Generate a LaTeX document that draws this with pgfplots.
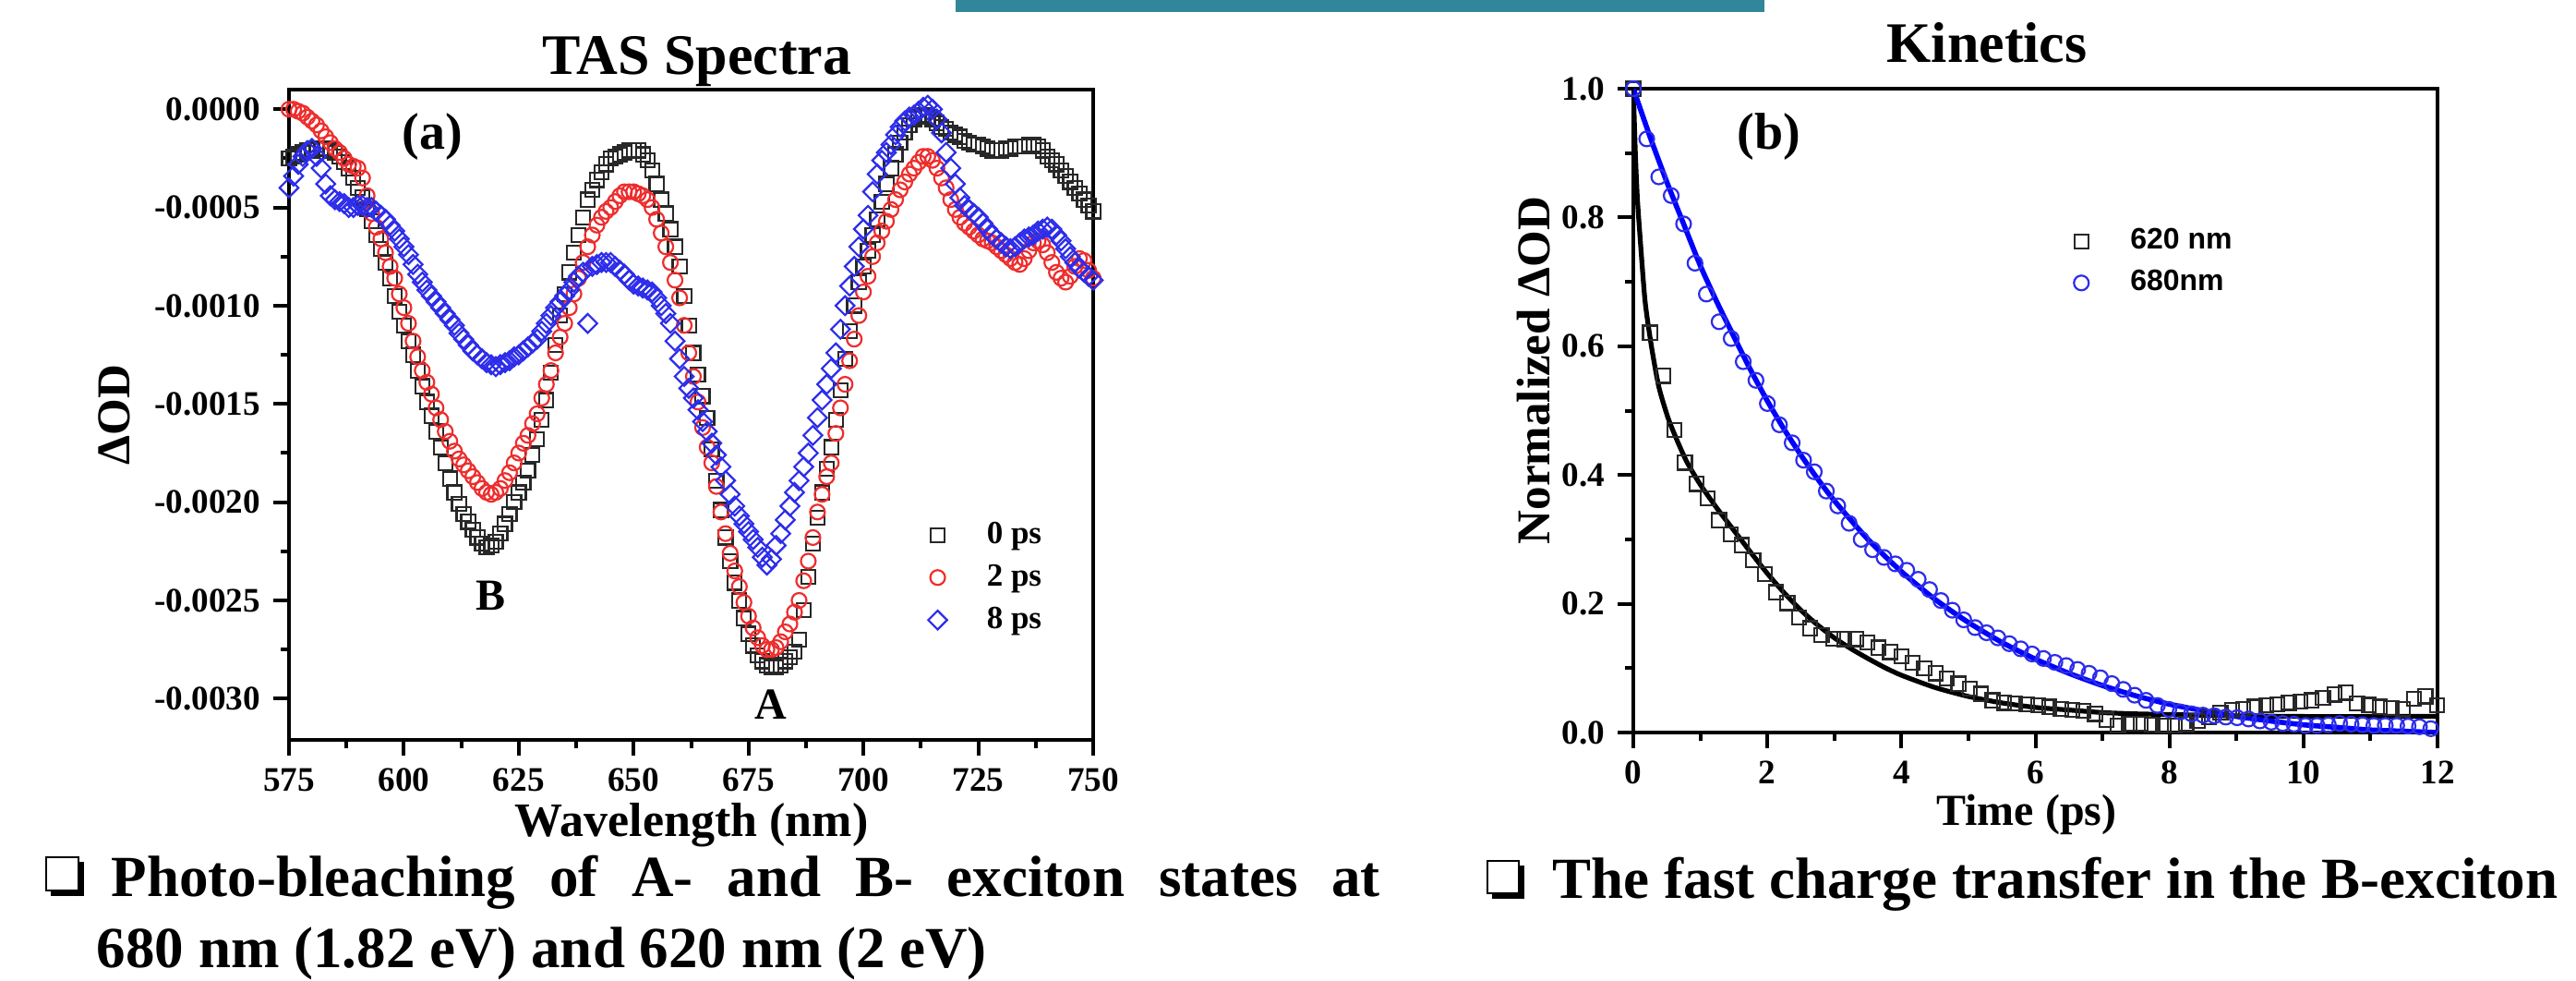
\documentclass[border=0pt]{standalone}
\usepackage{fontspec}
\setmainfont{Liberation Serif}
\newfontfamily\arialf{Liberation Sans}
\usepackage{pgfplots}
\usepackage{pgfplotstable}
\pgfplotsset{compat=1.18}
\definecolor{barteal}{RGB}{49,134,155}
\definecolor{mred}{RGB}{238,45,45}
\definecolor{mblue}{RGB}{45,45,235}
\definecolor{mblack}{RGB}{40,40,40}

\pgfplotstableread{
wl a b c
575 -0.00025 0.00000 -0.00040
576 -0.00024 0.00000 -0.00034
577 -0.00023 -0.00001 -0.00028
578 -0.00022 -0.00002 -0.00024
579 -0.00021 -0.00004 -0.00021
580 -0.00021 -0.00006 -0.00020
581 -0.00020 -0.00008 -0.00024
582 -0.00020 -0.00011 -0.00030
583 -0.00020 -0.00014 -0.00038
584 -0.00021 -0.00017 -0.00044
585 -0.00022 -0.00020 -0.00046
586 -0.00024 -0.00022 -0.00047
587 -0.00027 -0.00025 -0.00048
588 -0.00030 -0.00028 -0.00050
589 -0.00035 -0.00029 -0.00050
590 -0.00040 -0.00030 -0.00049
591 -0.00045 -0.00035 -0.00049
592 -0.00051 -0.00044 -0.00050
593 -0.00057 -0.00053 -0.00050
594 -0.00064 -0.00060 -0.00052
595 -0.00071 -0.00066 -0.00054
596 -0.00078 -0.00073 -0.00056
597 -0.00086 -0.00080 -0.00059
598 -0.00095 -0.00086 -0.00062
599 -0.00103 -0.00094 -0.00066
600 -0.00110 -0.00101 -0.00070
601 -0.00118 -0.00109 -0.00074
602 -0.00125 -0.00118 -0.00079
603 -0.00133 -0.00126 -0.00084
604 -0.00141 -0.00133 -0.00088
605 -0.00149 -0.00139 -0.00092
606 -0.00156 -0.00145 -0.00095
607 -0.00164 -0.00152 -0.00098
608 -0.00172 -0.00158 -0.00101
609 -0.00180 -0.00164 -0.00104
610 -0.00188 -0.00169 -0.00107
611 -0.00195 -0.00174 -0.00110
612 -0.00201 -0.00178 -0.00114
613 -0.00206 -0.00181 -0.00117
614 -0.00210 -0.00184 -0.00120
615 -0.00214 -0.00187 -0.00123
616 -0.00218 -0.00190 -0.00125
617 -0.00221 -0.00193 -0.00127
618 -0.00223 -0.00195 -0.00129
619 -0.00222 -0.00196 -0.00130
620 -0.00220 -0.00195 -0.00131
621 -0.00216 -0.00193 -0.00130
622 -0.00211 -0.00189 -0.00129
623 -0.00206 -0.00185 -0.00128
624 -0.00200 -0.00180 -0.00126
625 -0.00195 -0.00175 -0.00125
626 -0.00190 -0.00170 -0.00123
627 -0.00184 -0.00166 -0.00121
628 -0.00176 -0.00160 -0.00119
629 -0.00168 -0.00155 -0.00117
630 -0.00158 -0.00147 -0.00113
631 -0.00148 -0.00140 -0.00109
632 -0.00134 -0.00133 -0.00105
633 -0.00120 -0.00124 -0.00101
634 -0.00105 -0.00116 -0.00098
635 -0.00094 -0.00109 -0.00095
636 -0.00083 -0.00101 -0.00092
637 -0.00073 -0.00094 -0.00088
638 -0.00064 -0.00086 -0.00085
639 -0.00055 -0.00078 -0.00083
640 -0.00046 -0.00070 -0.00109
641 -0.00041 -0.00064 -0.00080
642 -0.00036 -0.00059 -0.00079
643 -0.00032 -0.00055 -0.00078
644 -0.00028 -0.00052 -0.00078
645 -0.00025 -0.00050 -0.00078
646 -0.00024 -0.00047 -0.00080
647 -0.00023 -0.00044 -0.00082
648 -0.00022 -0.00042 -0.00084
649 -0.00021 -0.00042 -0.00087
650 -0.00021 -0.00042 -0.00089
651 -0.00021 -0.00043 -0.00090
652 -0.00023 -0.00044 -0.00091
653 -0.00026 -0.00046 -0.00092
654 -0.00031 -0.00050 -0.00093
655 -0.00038 -0.00056 -0.00096
656 -0.00046 -0.00063 -0.00100
657 -0.00053 -0.00070 -0.00104
658 -0.00061 -0.00078 -0.00109
659 -0.00070 -0.00087 -0.00118
660 -0.00080 -0.00096 -0.00127
661 -0.00095 -0.00110 -0.00136
662 -0.00110 -0.00124 -0.00142
663 -0.00124 -0.00136 -0.00147
664 -0.00135 -0.00149 -0.00153
665 -0.00146 -0.00162 -0.00159
666 -0.00157 -0.00172 -0.00164
667 -0.00173 -0.00180 -0.00170
668 -0.00189 -0.00192 -0.00176
669 -0.00204 -0.00205 -0.00182
670 -0.00218 -0.00216 -0.00189
671 -0.00230 -0.00226 -0.00196
672 -0.00241 -0.00235 -0.00202
673 -0.00250 -0.00243 -0.00207
674 -0.00259 -0.00251 -0.00211
675 -0.00267 -0.00258 -0.00215
676 -0.00273 -0.00264 -0.00219
677 -0.00278 -0.00269 -0.00223
678 -0.00281 -0.00273 -0.00228
679 -0.00283 -0.00275 -0.00232
680 -0.00284 -0.00275 -0.00229
681 -0.00284 -0.00274 -0.00222
682 -0.00283 -0.00271 -0.00216
683 -0.00281 -0.00266 -0.00209
684 -0.00279 -0.00262 -0.00202
685 -0.00276 -0.00256 -0.00195
686 -0.00270 -0.00250 -0.00189
687 -0.00255 -0.00240 -0.00182
688 -0.00238 -0.00230 -0.00175
689 -0.00221 -0.00218 -0.00166
690 -0.00208 -0.00205 -0.00157
691 -0.00195 -0.00196 -0.00148
692 -0.00183 -0.00187 -0.00140
693 -0.00172 -0.00180 -0.00132
694 -0.00158 -0.00165 -0.00124
695 -0.00143 -0.00152 -0.00112
696 -0.00127 -0.00140 -0.00100
697 -0.00113 -0.00128 -0.00090
698 -0.00100 -0.00117 -0.00080
699 -0.00088 -0.00105 -0.00070
700 -0.00080 -0.00093 -0.00061
701 -0.00072 -0.00085 -0.00054
702 -0.00064 -0.00075 -0.00042
703 -0.00056 -0.00068 -0.00033
704 -0.00047 -0.00062 -0.00026
705 -0.00038 -0.00057 -0.00022
706 -0.00030 -0.00051 -0.00018
707 -0.00023 -0.00046 -0.00013
708 -0.00017 -0.00041 -0.00009
709 -0.00012 -0.00037 -0.00006
710 -0.00008 -0.00033 -0.00004
711 -0.00005 -0.00030 -0.00003
712 -0.00004 -0.00027 -0.00001
713 -0.00003 -0.00024 0.00001
714 -0.00004 -0.00024 0.00002
715 -0.00005 -0.00026 0.00000
716 -0.00007 -0.00030 -0.00005
717 -0.00009 -0.00035 -0.00012
718 -0.00010 -0.00040 -0.00022
719 -0.00012 -0.00046 -0.00030
720 -0.00013 -0.00051 -0.00038
721 -0.00014 -0.00055 -0.00045
722 -0.00016 -0.00058 -0.00049
723 -0.00017 -0.00060 -0.00051
724 -0.00018 -0.00062 -0.00053
725 -0.00018 -0.00064 -0.00055
726 -0.00019 -0.00066 -0.00058
727 -0.00020 -0.00067 -0.00061
728 -0.00021 -0.00068 -0.00064
729 -0.00021 -0.00070 -0.00066
730 -0.00021 -0.00072 -0.00068
731 -0.00020 -0.00074 -0.00070
732 -0.00020 -0.00076 -0.00071
733 -0.00019 -0.00078 -0.00070
734 -0.00019 -0.00079 -0.00068
735 -0.00019 -0.00076 -0.00066
736 -0.00018 -0.00072 -0.00065
737 -0.00018 -0.00068 -0.00064
738 -0.00019 -0.00067 -0.00062
739 -0.00021 -0.00069 -0.00061
740 -0.00024 -0.00073 -0.00060
741 -0.00026 -0.00078 -0.00061
742 -0.00028 -0.00083 -0.00064
743 -0.00031 -0.00086 -0.00067
744 -0.00034 -0.00088 -0.00071
745 -0.00037 -0.00085 -0.00075
746 -0.00040 -0.00080 -0.00078
747 -0.00043 -0.00076 -0.00081
748 -0.00046 -0.00077 -0.00083
749 -0.00049 -0.00082 -0.00085
750 -0.00052 -0.00086 -0.00087
}\tasdata

\pgfplotstableread{
t v
0.00 1.000
0.25 0.621
0.45 0.554
0.61 0.470
0.77 0.419
0.94 0.386
1.11 0.364
1.28 0.330
1.45 0.308
1.62 0.291
1.79 0.268
1.96 0.246
2.13 0.218
2.30 0.201
2.47 0.179
2.64 0.162
2.81 0.151
2.98 0.146
3.15 0.145
3.32 0.145
3.49 0.140
3.66 0.132
3.83 0.125
4.00 0.118
4.17 0.108
4.34 0.100
4.51 0.092
4.68 0.084
4.85 0.076
5.02 0.068
5.19 0.060
5.36 0.050
5.53 0.046
5.70 0.045
5.87 0.044
6.04 0.042
6.21 0.040
6.38 0.037
6.55 0.035
6.72 0.034
6.89 0.029
7.06 0.020
7.23 0.011
7.40 0.014
7.57 0.014
7.74 0.012
7.91 0.011
8.08 0.011
8.25 0.013
8.42 0.018
8.59 0.024
8.76 0.031
8.93 0.035
9.10 0.037
9.27 0.040
9.44 0.042
9.61 0.044
9.78 0.046
9.95 0.048
10.12 0.050
10.29 0.054
10.46 0.059
10.63 0.062
10.80 0.045
10.97 0.043
11.14 0.040
11.31 0.038
11.48 0.036
11.65 0.052
11.82 0.056
11.99 0.042
}\kblack

\pgfplotstableread{
t v
0.00 1.000
0.20 0.922
0.38 0.863
0.565 0.834
0.75 0.790
0.92 0.729
1.09 0.681
1.28 0.638
1.46 0.612
1.64 0.576
1.83 0.547
2.00 0.511
2.18 0.478
2.37 0.450
2.54 0.423
2.70 0.405
2.88 0.375
3.05 0.352
3.22 0.325
3.40 0.300
3.57 0.284
3.74 0.272
3.91 0.262
4.08 0.252
4.25 0.238
4.42 0.222
4.59 0.205
4.76 0.190
4.93 0.175
5.10 0.163
5.27 0.155
5.44 0.147
5.61 0.138
5.78 0.130
5.95 0.122
6.12 0.115
6.29 0.109
6.46 0.104
6.63 0.098
6.80 0.092
6.97 0.085
7.14 0.076
7.31 0.067
7.48 0.058
7.65 0.050
7.82 0.042
7.99 0.036
8.16 0.032
8.33 0.029
8.50 0.027
8.67 0.026
8.84 0.024
9.01 0.023
9.18 0.021
9.35 0.018
9.52 0.016
9.69 0.014
9.86 0.013
10.03 0.011
10.20 0.011
10.37 0.012
10.54 0.014
10.71 0.013
10.88 0.012
11.05 0.011
11.22 0.011
11.39 0.011
11.56 0.010
11.73 0.009
11.90 0.006
}\kblue

\pgfplotstableread{
t v
0.00 1.000
0.03 0.900
0.06 0.830
0.10 0.770
0.175 0.670
0.27 0.600
0.38 0.537
0.52 0.488
0.66 0.452
0.80 0.420
1.00 0.385
1.25 0.348
1.50 0.314
1.75 0.280
2.00 0.247
2.25 0.217
2.50 0.190
2.75 0.167
3.00 0.147
3.25 0.130
3.50 0.115
3.75 0.101
4.00 0.089
4.50 0.070
5.00 0.056
5.50 0.046
6.00 0.039
6.50 0.035
7.00 0.031
7.50 0.029
8.00 0.028
9.00 0.026
10.00 0.025
11.00 0.025
12.00 0.025
}\fitblack

\pgfplotstableread{
t v
0.00 1.000
0.25 0.925
0.50 0.855
0.75 0.790
1.00 0.725
1.25 0.668
1.50 0.615
1.75 0.563
2.00 0.515
2.25 0.471
2.50 0.431
2.75 0.394
3.00 0.360
3.50 0.300
4.00 0.250
4.50 0.207
5.00 0.171
5.50 0.140
6.00 0.114
6.50 0.092
7.00 0.073
7.50 0.057
8.00 0.044
8.50 0.034
9.00 0.025
9.50 0.018
10.00 0.012
10.50 0.008
11.00 0.004
11.50 0.002
12.00 0.000
}\fitblue

\pgfplotsset{
  myax/.style={
    scale only axis,
    axis line style={line width=1pt},
    every tick/.style={line width=1pt, black},
    tick align=outside,
    xtick pos=left, ytick pos=left,
    major tick length=4.2pt, minor tick length=2.2pt,
    ticklabel style={font=\bfseries\fontsize{9.3}{11}\selectfont},
    scaled ticks=false,
    legend cell align=left,
  }
}

\begin{document}
\begin{tikzpicture}
\useasboundingbox (0pt,0pt) rectangle (697.5pt,-265.25pt);
\fill[white] (0pt,0pt) rectangle (697.5pt,-265.25pt);

% ---------- left: TAS spectra ----------
\begin{axis}[myax,
  at={(78.25pt,-200.25pt)}, anchor=south west,
  width=217.75pt, height=176pt,
  xmin=575, xmax=750, ymin=-0.00321, ymax=0.0001,
  xtick={575,600,625,650,675,700,725,750},
  xticklabels={575,600,625,650,675,700,725,750},
  minor x tick num=1,
  ytick={-0.003,-0.0025,-0.002,-0.0015,-0.001,-0.0005,0},
  yticklabels={-0.0030,-0.0025,-0.0020,-0.0015,-0.0010,-0.0005,0.0000},
  minor y tick num=1,
  legend style={draw=none, fill=none, inner sep=0pt,
    font=\bfseries\fontsize{8.75}{10}\selectfont,
    at={(axis description cs:0.794,0.346)}, anchor=north west,
    nodes={inner xsep=1pt, inner ysep=1pt, text height=6.5pt, text depth=2pt},
    row sep=1pt,
    /tikz/every odd column/.append style={column sep=9.75pt}},
]
\addplot[only marks, mark=square, mark size=1.9pt, mblack, mark options={line width=0.55pt}]
  table[x=wl, y=a] {\tasdata};
\addlegendentry{0 ps}
\addplot[only marks, mark=o, mark size=2pt, mred, mark options={line width=0.55pt}]
  table[x=wl, y=b] {\tasdata};
\addlegendentry{2 ps}
\addplot[only marks, mark=square, mark size=1.8pt, mblue, mark options={line width=0.55pt, rotate=45}]
  table[x=wl, y=c] {\tasdata};
\addlegendentry{8 ps}
\end{axis}

% ---------- right: kinetics ----------
\begin{axis}[myax,
  at={(442.25pt,-198.25pt)}, anchor=south west,
  width=217.75pt, height=174.25pt,
  xmin=0, xmax=12, ymin=0, ymax=1,
  xtick={0,2,4,6,8,10,12},
  xticklabels={0,2,4,6,8,10,12},
  minor x tick num=1,
  ytick={0,0.2,0.4,0.6,0.8,1.0},
  yticklabels={0.0,0.2,0.4,0.6,0.8,1.0},
  minor y tick num=1,
  legend style={draw=none, fill=none, inner sep=0pt,
    font=\arialf\bfseries\fontsize{8}{9.5}\selectfont,
    at={(axis description cs:0.547,0.792)}, anchor=north west,
    nodes={inner xsep=1pt, inner ysep=1pt, text height=6pt, text depth=1.75pt},
    row sep=1.5pt,
    /tikz/every odd column/.append style={column sep=10.25pt}},
]
\addplot[only marks, mark=square, mark size=1.9pt, mblack, mark options={line width=0.55pt}]
  table[x=t, y=v] {\kblack};
\addlegendentry{620 nm}
\addplot[only marks, mark=o, mark size=2pt, mblue, mark options={line width=0.55pt}]
  table[x=t, y=v] {\kblue};
\addlegendentry{680nm}
\addplot[forget plot, no marks, black, line width=1.3pt, smooth, tension=0.4] table[x=t, y=v] {\fitblack};
\addplot[forget plot, no marks, blue, line width=1.4pt, smooth, tension=0.4] table[x=t, y=v] {\fitblue};
\end{axis}

% ---------- texts (pixel coordinates, y downward) ----------
\begin{scope}[x=0.25pt, y=-0.25pt]
\fill[barteal] (1035,0) rectangle (1911,13);
\node[anchor=base, inner sep=0, font=\bfseries\fontsize{15.5}{18}\selectfont] at (755,80) {TAS Spectra};
\node[anchor=base, inner sep=0, font=\bfseries\fontsize{15.5}{18}\selectfont] at (2152,67) {Kinetics};
\node[inner sep=0, font=\bfseries\fontsize{14}{16}\selectfont] at (468,148) {(a)};
\node[inner sep=0, font=\bfseries\fontsize{14}{16}\selectfont] at (1916,148) {(b)};
\node[inner sep=0, font=\bfseries\fontsize{12}{14}\selectfont] at (531,645) {B};
\node[inner sep=0, font=\bfseries\fontsize{12}{14}\selectfont] at (835,763) {A};
\node[inner sep=0, rotate=90, font=\bfseries\fontsize{12.75}{15}\selectfont] at (124,449) {ΔOD};
\node[inner sep=0, rotate=90, font=\bfseries\fontsize{12.75}{15}\selectfont] at (1661,401) {Normalized ΔOD};
\node[inner sep=0, font=\bfseries\fontsize{13}{15}\selectfont] at (749,893) {Wavelength (nm)};
\node[inner sep=0, font=\bfseries\fontsize{12}{14}\selectfont] at (2195,882) {Time (ps)};
% bullet boxes
\fill[black] (55,933) rectangle (91,970);
\filldraw[fill=white, draw=black, line width=0.5pt] (50,928) rectangle (85,964);
\fill[black] (1616,937) rectangle (1651,973);
\filldraw[fill=white, draw=black, line width=0.5pt] (1611,932) rectangle (1645,967);
\node[anchor=base west, inner sep=0, font=\bfseries\fontsize{15.75}{18}\selectfont] at (120,970)
  {\hbox to 343.5pt{Photo-bleaching\hfill of\hfill A-\hfill and\hfill B-\hfill exciton\hfill states\hfill at}};
\node[anchor=base west, inner sep=0, font=\bfseries\fontsize{15.75}{18}\selectfont] at (104,1047)
  {680 nm (1.82 eV) and 620 nm (2 eV)};
\node[anchor=base west, inner sep=0, font=\bfseries\fontsize{15.75}{18}\selectfont] at (1681,972)
  {The fast charge transfer in the B-exciton};
\end{scope}
\end{tikzpicture}
\end{document}
